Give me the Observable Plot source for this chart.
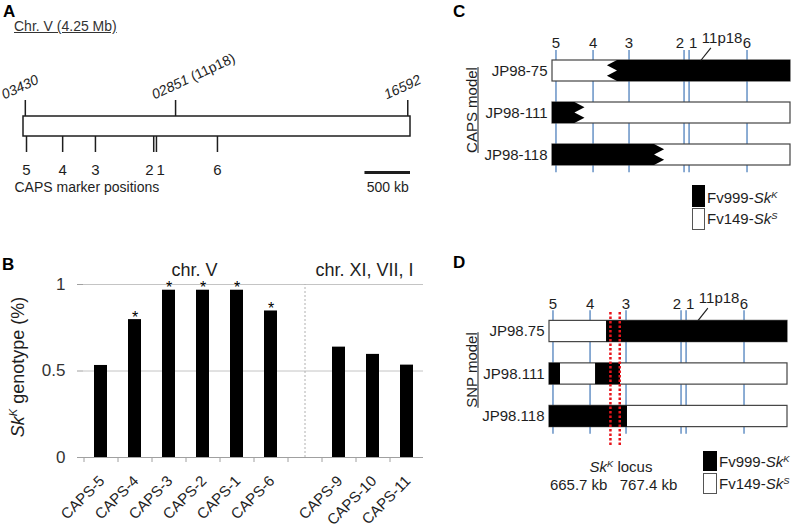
<!DOCTYPE html>
<html><head><meta charset="utf-8">
<script src="https://cdn.jsdelivr.net/npm/d3@7"></script>
<script src="https://cdn.jsdelivr.net/npm/@observablehq/plot@0.6"></script>
<style>
body{margin:0;background:#fff;}
#fig{position:relative;width:792px;height:526px;overflow:hidden;background:#fff;font-family:"Liberation Sans",Arial,Helvetica,sans-serif;color:#222;}
.abs{position:absolute;white-space:nowrap;line-height:1;}
.abs sup{font-size:0.62em;vertical-align:baseline;position:relative;top:-0.62em;line-height:0;}
.sw{position:absolute;box-sizing:border-box;}
</style></head><body><div id="fig"></div>
<script>
// ---------------- data ----------------
// Panel A: chromosome V overview (positions in Mb)
const chrLengthMb = 4.25;
const scaleBarMb = 0.5;
const lociIds = ["03430", "02851", "16592"];
const lociAliases = ["", "11p18", ""];
const lociPosA = [0.02, 1.67, 4.22];
const capsMarkerNames = ["5", "4", "3", "2", "1", "6"];
const capsMarkerPosA = [0.033, 0.43, 0.79, 1.43, 1.46, 2.13];

// Panel B: fraction of Sk^K genotype per CAPS marker
const barCategories = ["CAPS-5", "CAPS-4", "CAPS-3", "CAPS-2", "CAPS-1", "CAPS-6", "CAPS-9", "CAPS-10", "CAPS-11"];
const barGroups = ["chr. V", "chr. V", "chr. V", "chr. V", "chr. V", "chr. V", "chr. XI, VII, I", "chr. XI, VII, I", "chr. XI, VII, I"];
const skKFraction = [0.532, 0.797, 0.967, 0.967, 0.967, 0.847, 0.638, 0.596, 0.534];
const significant = [false, true, true, true, true, true, false, false, false];
const yTicksB = [0, 0.5, 1];

// Panels C & D: genotypes of lines along the first 2.6 Mb (Mb)
const regionLengthMb = 2.6;
const markerPosCD = [0.038, 0.443, 0.836, 1.437, 1.492, 2.125];
const p11p18PosCD = 1.62;
const capsLines = ["JP98-75", "JP98-111", "JP98-118"];
const capsSkKSegments = [[[0.655, 2.6]], [[0, 0.30]], [[0, 1.17]]];
const snpLines = ["JP98.75", "JP98.111", "JP98.118"];
const snpSkKSegments = [[[0.623, 2.6]], [[0, 0.12], [0.503, 0.776]], [[0, 0.852]]];
const skKLocusKb = [665.7, 767.4];

// ---------------- helpers ----------------
const FONT = '"Liberation Sans", Arial, Helvetica, sans-serif';
const INK = "#1e1e1e";
const BLUE = "#4f81bd";
const fig = document.getElementById("fig");

function addPlot(plot, left, top) {
  plot.style.position = "absolute";
  plot.style.left = left + "px";
  plot.style.top = top + "px";
  fig.append(plot);
}
function addText(html, o) {
  const d = document.createElement("div");
  d.className = "abs";
  d.innerHTML = html;
  const size = o.size || 15;
  d.style.fontSize = size + "px";
  d.style.color = o.color || INK;
  if (o.bold) d.style.fontWeight = "bold";
  if (o.underline) d.style.textDecoration = "underline";
  if (o.rotate) {
    d.style.left = o.cx + "px"; d.style.top = o.cy + "px";
    d.style.transform = `translate(-50%,-50%) rotate(${o.rotate}deg)`;
  } else {
    d.style.left = o.x + "px";
    d.style.top = (o.baseline - 0.8465 * size) + "px";
    const tx = o.anchor === "middle" ? "-50%" : o.anchor === "end" ? "-100%" : "0";
    d.style.transform = `translateX(${tx})`;
  }
  fig.append(d);
}
function addSwatch(x, y, w, h, fill, border) {
  const s = document.createElement("div");
  s.className = "sw";
  Object.assign(s.style, {left: x + "px", top: y + "px", width: w + "px", height: h + "px", background: fill, border: `1px solid ${border}`});
  fig.append(s);
}
function anchorize(markers) {
  markers.forEach((m, i) => {
    const next = markers[i + 1], prev = markers[i - 1];
    m.anchor = next && next.pos - m.pos < 0.1 ? "end" : prev && m.pos - prev.pos < 0.1 ? "start" : "middle";
  });
  return markers;
}
const baseStyle = {background: "transparent", overflow: "visible", fontFamily: FONT, color: INK};

// ---------------- Panel A ----------------
(function panelA() {
  const loci = lociIds.map((id, i) => ({id, alias: lociAliases[i], pos: lociPosA[i]}));
  const markers = anchorize(capsMarkerNames.map((name, i) => ({name, pos: capsMarkerPosA[i]})));
  const plot = Plot.plot({
    width: 420, height: 200, marginLeft: 23, marginRight: 10, marginTop: 0, marginBottom: 0,
    x: {domain: [0, chrLengthMb], axis: null},
    y: {domain: [-3.2, 6.8], axis: null},
    style: {...baseStyle, fontSize: "14px"},
    marks: [
      Plot.ruleX(loci, {x: "pos", y1: 1, y2: 1.8, stroke: INK, strokeWidth: 1.5}),
      Plot.text(loci, {x: "pos", y: 1.85, text: d => d.alias ? `${d.id} (${d.alias})` : d.id,
        rotate: -25, textAnchor: "start", lineAnchor: "bottom", dx: -21, fontStyle: "italic", fontSize: 14, fill: INK}),
      Plot.rect([chrLengthMb], {x1: 0, x2: d => d, y1: 0, y2: 1, fill: "white", stroke: INK, strokeWidth: 1.5}),
      Plot.ruleX(markers, {x: "pos", y1: 0, y2: -0.8, stroke: INK, strokeWidth: 1.5}),
      ...["middle", "start", "end"].map(a => Plot.text(markers.filter(m => m.anchor === a),
        {x: "pos", y: -1.9, text: "name", textAnchor: a, lineAnchor: "bottom", fontSize: 15, fill: INK})),
      Plot.ruleY([-1.8], {x1: chrLengthMb - scaleBarMb, x2: chrLengthMb, stroke: INK, strokeWidth: 3}),
      Plot.text([`${scaleBarMb * 1000} kb`], {x: chrLengthMb - scaleBarMb / 2, y: -2.75, text: d => d, lineAnchor: "bottom", fontSize: 14, fill: INK}),
      Plot.text(["CAPS marker positions"], {x: 0, y: -2.75, dx: -9, text: d => d, textAnchor: "start", lineAnchor: "bottom", fontSize: 14, fill: INK})
    ]
  });
  // alias in parentheses is set upright
  plot.querySelectorAll("text").forEach(t => {
    const s = t.textContent, k = s.indexOf(" (");
    if (k > 0) {
      t.textContent = "";
      const ns = "http://www.w3.org/2000/svg";
      const a = document.createElementNS(ns, "tspan"); a.textContent = s.slice(0, k + 1);
      const b = document.createElementNS(ns, "tspan"); b.textContent = s.slice(k + 1); b.setAttribute("font-style", "normal");
      t.append(a, b);
    }
  });
  addPlot(plot, 0, 0);
  addText("A", {x: 3, baseline: 17, size: 17, bold: true, color: "#000"});
  addText("Chr. V (4.25 Mb)", {x: 14, baseline: 31, size: 14, underline: true, color: "#333"});
})();

// ---------------- Panel B ----------------
(function panelB() {
  const GAP = "gap";
  const groupNames = [...new Set(barGroups)];
  const xDomain = [];
  groupNames.forEach((g, gi) => {
    if (gi) xDomain.push(GAP);
    barCategories.forEach((c, i) => { if (barGroups[i] === g) xDomain.push(c); });
  });
  const data = barCategories.map((name, i) => ({name, value: skKFraction[i], sig: significant[i]}));
  const W = 430, H = 326, ml = 83, mr = 7;
  const step = (W - ml - mr) / xDomain.length;
  const gapIdx = xDomain.indexOf(GAP);
  const plot = Plot.plot({
    width: W, height: H, marginLeft: ml, marginRight: mr, marginTop: 84, marginBottom: 69,
    x: {domain: xDomain, paddingInner: 0.62, paddingOuter: 0.31, axis: null},
    y: {domain: [0, 1], axis: null},
    style: {...baseStyle, fontSize: "15px"},
    marks: [
      Plot.ruleY([0.5, 1], {stroke: "#c4c4c4"}),
      Plot.ruleX([GAP], {x: d => d, y1: 0, y2: 1, stroke: "#b0b0b0", strokeDasharray: "2,2"}),
      Plot.ruleY([0], {stroke: "#a0a0a0"}),
      Plot.axisY({ticks: yTicksB, tickSize: 6, tickPadding: 12, stroke: "#a0a0a0", fill: "#333", fontSize: 17, label: null, tickFormat: d => String(d)}),
      Plot.axisX({tickSize: 5, dx: -step / 2, stroke: "#a0a0a0", tickFormat: () => "", label: null}),
      Plot.text(barCategories, {x: d => d, y: 0, dy: 21, dx: 1, text: d => d, rotate: -45, textAnchor: "end", lineAnchor: "middle", fontSize: 15, fill: INK}),
      Plot.barY(data, {x: "name", y: "value", fill: "#000"}),
      Plot.text(data.filter(d => d.sig), {x: "name", y: "value", text: () => "*", lineAnchor: "bottom", dy: 3, fontSize: 16, fill: "#000"}),
      Plot.text([groupNames[0]], {x: () => GAP, y: 1, dy: -9, dx: -(gapIdx + 0.5) * step / 2, text: d => d, lineAnchor: "bottom", fontSize: 18, fill: INK}),
      Plot.text([groupNames[1]], {x: () => GAP, y: 1, dy: -9, dx: (xDomain.length - gapIdx - 0.5) * step / 2, text: d => d, lineAnchor: "bottom", fontSize: 18, fill: INK})
    ]
  });
  addPlot(plot, 0, 200);
  addText("B", {x: 2, baseline: 270, size: 17, bold: true, color: "#000"});
  addText("<i>Sk</i><sup><i>K</i></sup> genotype (%)", {cx: 18, cy: 367, rotate: -90, size: 18});
})();

// ---------------- Panels C & D ----------------
function genotypePanel(cfg) {
  const {W, H, ml, mr, rowY0, rowStep, lineNames, segments, zigzag, locus} = cfg;
  const half = 0.25, d = 0.055;
  const rows = lineNames.map((name, i) => ({name, i}));
  const polys = [];
  segments.forEach((segs, i) => segs.forEach(([s, e], j) => {
    [0, 0.25, 0.5, 0.75, 1].forEach((t, k) => {
      const tip = k % 2 === 1;
      let x1 = s, x2 = e;
      if (zigzag && s > 0) x1 = tip ? s - d : s + d;
      if (zigzag && e < regionLengthMb) x2 = tip ? e + d : e - d;
      polys.push({key: `${i}-${j}`, y: i - half + 2 * half * t, x1, x2});
    });
  }));
  const markers = anchorize(capsMarkerNames.map((name, i) => ({name, pos: markerPosCD[i]})));
  const locusData = (locus || []).map((kb, i) => ({kb, i}));
  const txt = {fontSize: 15, fill: INK};
  return Plot.plot({
    width: W, height: H, marginLeft: ml, marginRight: mr, marginTop: 0, marginBottom: 0,
    x: {domain: [0, regionLengthMb], axis: null},
    y: {domain: [-rowY0 / rowStep, (H - rowY0) / rowStep], range: [0, H], axis: null},
    style: {...baseStyle, fontSize: "15px"},
    marks: [
      Plot.ruleX(markers, {x: "pos", y1: -0.49, y2: 2.42, stroke: BLUE, strokeWidth: 1.3}),
      Plot.rect(rows, {x1: 0, x2: regionLengthMb, y1: r => r.i - half, y2: r => r.i + half, fill: "white", stroke: "#444", strokeWidth: 1.2}),
      Plot.areaX(polys, {y: "y", x1: "x1", x2: "x2", z: "key", fill: "#000", curve: "linear"}),
      Plot.ruleX(locusData, {x: l => l.kb / 1000, y1: -0.45, y2: 2.68, stroke: "#e8141b", strokeWidth: 2.5, strokeDasharray: "2.5,2"}),
      ...["middle", "start", "end"].map(a => Plot.text(markers.filter(m => m.anchor === a),
        {x: "pos", y: -0.54, text: "name", textAnchor: a, lineAnchor: "bottom", ...txt})),
      Plot.link([p11p18PosCD], {x1: p => p, x2: p => p + 0.11, y1: -half, y2: -0.55, stroke: INK, strokeWidth: 1.2}),
      Plot.text([lociAliases[1]], {x: p11p18PosCD + 0.11, y: -0.66, dx: -9, text: s => s, textAnchor: "start", lineAnchor: "bottom", ...txt}),
      Plot.text(rows, {x: 0, y: "i", dx: -5, text: "name", textAnchor: "end", lineAnchor: "middle", ...txt}),
      Plot.text(locusData.filter(l => l.i === 0), {x: l => l.kb / 1000, y: 3.72, dx: -3, text: l => `${l.kb.toFixed(1)} kb`, textAnchor: "end", lineAnchor: "bottom", ...txt}),
      Plot.text(locusData.filter(l => l.i === 1), {x: l => l.kb / 1000, y: 3.72, dx: 0, text: l => `${l.kb.toFixed(1)} kb`, textAnchor: "start", lineAnchor: "bottom", ...txt})
    ]
  });
}

addPlot(genotypePanel({W: 362, H: 260, ml: 122, mr: 2, rowY0: 70.5, rowStep: 42,
  lineNames: capsLines, segments: capsSkKSegments, zigzag: true}), 430, 0);
addPlot(genotypePanel({W: 362, H: 266, ml: 119, mr: 5, rowY0: 71, rowStep: 42.5,
  lineNames: snpLines, segments: snpSkKSegments, zigzag: false, locus: skKLocusKb}), 430, 260);

addText("C", {x: 453, baseline: 17, size: 17, bold: true, color: "#000"});
addText("CAPS model", {cx: 471, cy: 110, rotate: -90, size: 15, underline: true});
addSwatch(692, 185, 13, 22, "#000", "#000");
addSwatch(692, 208, 13, 22, "#fff", "#555");
addText("Fv999-<i>Sk</i><sup><i>K</i></sup>", {x: 707, baseline: 203, size: 15});
addText("Fv149-<i>Sk</i><sup><i>S</i></sup>", {x: 707, baseline: 224, size: 15});

addText("D", {x: 453, baseline: 268, size: 17, bold: true, color: "#000"});
addText("SNP model", {cx: 471, cy: 370, rotate: -90, size: 15, underline: true});
addSwatch(703, 451, 14, 20, "#000", "#000");
addSwatch(703, 473, 14, 21, "#fff", "#555");
addText("Fv999-<i>Sk</i><sup><i>K</i></sup>", {x: 719, baseline: 467, size: 15});
addText("Fv149-<i>Sk</i><sup><i>S</i></sup>", {x: 719, baseline: 489, size: 15});
addText("<i>Sk</i><sup><i>K</i></sup> locus", {x: 621, baseline: 472, size: 15, anchor: "middle"});
</script></body></html>
